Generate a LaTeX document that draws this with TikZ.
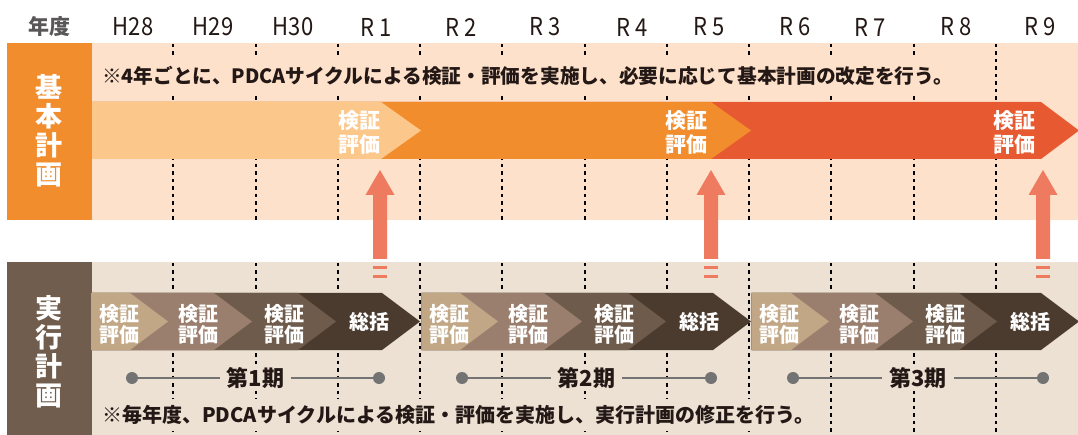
\documentclass[tikz,border=0pt]{standalone}
\usepackage{fontspec}
\setmainfont{Noto Sans CJK JP}
\usetikzlibrary{calc}
\definecolor{bandA}{HTML}{FDE1CA}
\definecolor{bandB}{HTML}{ECE1D2}
\definecolor{orMid}{HTML}{F18D2D}
\definecolor{orLight}{HTML}{FCC78B}
\definecolor{orRed}{HTML}{E75A31}
\definecolor{brBox}{HTML}{705D4D}
\definecolor{chvA}{HTML}{C1A785}
\definecolor{chvB}{HTML}{9B7F6E}
\definecolor{chvC}{HTML}{6E5B4B}
\definecolor{chvD}{HTML}{4B3A2E}
\definecolor{upar}{HTML}{EE7A5F}
\definecolor{dotg}{HTML}{737373}
\definecolor{txtc}{HTML}{231815}
\definecolor{hdrc}{HTML}{595757}
\tikzset{
  yearlbl/.style={font=\fontsize{22}{22}\selectfont, text=txtc, inner sep=0pt},
  hdrlbl/.style={font=\fontsize{21}{21}\selectfont\bfseries, text=hdrc, inner sep=0pt},
  vlbl/.style={font=\fontsize{27}{29}\selectfont\bfseries, text=white, align=center, inner sep=0pt},
  chvlbl/.style={font=\fontsize{20}{20.5}\selectfont\bfseries, text=white, align=center, inner sep=0pt},
  toplbl/.style={font=\fontsize{21}{24}\selectfont\bfseries, text=white, align=center, inner sep=0pt},
  notelbl/.style={font=\fontsize{20}{20}\selectfont\bfseries, text=txtc, inner xsep=5pt, inner ysep=0pt, minimum height=36pt},
  periodlbl/.style={font=\fontsize{22}{22}\selectfont\bfseries, text=txtc, fill=bandB, inner xsep=7pt, inner ysep=2pt},
  divider/.style={line width=2pt, dash pattern=on 3.5pt off 4pt, black},
  periodline/.style={line width=2pt, dotg},
  perioddot/.style={circle, fill=dotg, minimum size=12pt, inner sep=0pt},
}
\newcommand{\yrtxt}[1]{\scalebox{1}[1.12]{#1}}
\begin{document}
\begin{tikzpicture}[x=1pt,y=-1pt]
\useasboundingbox (0,0) rectangle (1078,435);
\fill[white] (0,0) rectangle (1078,435);

% header
\node[hdrlbl] (hdr) at (49,27) {年度};
\foreach \xx/\lab [count=\i] in {133/H28,213/H29,293/H30,376/R\hspace{5pt}1,461/R\hspace{5pt}2,545/R\hspace{5pt}3,632/R\hspace{5pt}4,709/R\hspace{5pt}5,795/R\hspace{5pt}6,870/R\hspace{5pt}7,956/R\hspace{5pt}8,1040/R\hspace{5pt}9}
  \node[yearlbl] (yr\i) at (\xx,27) {\yrtxt{\lab}};

% bands
\fill[bandA] (92,43) rectangle (1078,220);
\fill[bandB] (92,262) rectangle (1078,435);
\fill[orMid] (7,43) rectangle (92,220);
\fill[brBox] (7,262) rectangle (92,435);
\node[vlbl] (kihon) at (48.5,131) {基\\本\\計\\画};
\node[vlbl] (jikko) at (48.5,352) {実\\行\\計\\画};

% dotted year dividers
\foreach \k in {1,...,11} {
  \draw[divider] ({91+82.25*\k},44) -- ({91+82.25*\k},220);
  \draw[divider] ({91+82.25*\k},263) -- ({91+82.25*\k},435);
}

% top note
\node[notelbl, fill=bandA, anchor=west, font=\fontsize{19.7}{20}\selectfont\bfseries] (note1) at (97,76) {※4年ごとに、PDCAサイクルによる検証・評価を実施し、必要に応じて基本計画の改定を行う。};

% big top arrow
\fill[orRed] (92,102) -- (1041,102) -- (1079,130.5) -- (1041,159) -- (92,159) -- cycle;
\fill[orMid] (92,102) -- (711,102) -- (751,130.5) -- (711,159) -- (92,159) -- cycle;
\fill[orLight] (92,102) -- (381,102) -- (421,130.5) -- (381,159) -- (92,159) -- cycle;
\node[toplbl, anchor=east] (ev1) at (381,133) {検証\\評価};
\node[toplbl, anchor=east] (ev2) at (708,133) {検証\\評価};
\node[toplbl, anchor=east] (ev3) at (1036,133) {検証\\評価};

% chevron groups
\foreach \g/\xo/\ta/\tb/\tc/\td in {1/91/168/252/336/420, 2/421.5/498/582/666/751, 3/751.5/829/913/997/1079} {
  \fill[chvD] (\xo,293) -- ({\td-38},293) -- (\td,321.5) -- ({\td-38},350) -- (\xo,350) -- cycle;
  \fill[chvC] (\xo,293) -- ({\tc-38},293) -- (\tc,321.5) -- ({\tc-38},350) -- (\xo,350) -- cycle;
  \fill[chvB] (\xo,293) -- ({\tb-38},293) -- (\tb,321.5) -- ({\tb-38},350) -- (\xo,350) -- cycle;
  \fill[chvA] (\xo,293) -- ({\ta-38},293) -- (\ta,321.5) -- ({\ta-38},350) -- (\xo,350) -- cycle;
  \node[chvlbl] (g\g a) at ({\xo+28},324.5) {検証\\評価};
  \node[chvlbl] (g\g b) at ({\ta+30},324.5) {検証\\評価};
  \node[chvlbl] (g\g c) at ({\tb+32},324.5) {検証\\評価};
  \node[chvlbl] (g\g d) at ({\tc+33},322) {総括};
}

% period lines
\foreach \g/\xa/\xb in {1/132/379, 2/462/711, 3/793/1043} {
  \node[perioddot] (p\g s) at (\xa,378) {};
  \node[perioddot] (p\g e) at (\xb,378) {};
  \draw[periodline] (p\g s) -- (p\g e);
  \node[periodlbl] (p\g l) at ({(\xa+\xb)/2},378) {第\g 期};
}

% bottom note
\node[notelbl, fill=bandB, anchor=west, minimum height=32pt] (note2) at (97,415) {※毎年度、PDCAサイクルによる検証・評価を実施し、実行計画の修正を行う。};

% upward block arrows
\foreach \i/\xx in {1/380, 2/711, 3/1043} {
  \coordinate (up\i) at (\xx,170);
  \fill[upar] (up\i) -- ++(14.5,25) -- ++(-7.5,0) -- ++(0,64) -- ++(-14,0) -- ++(0,-64) -- ++(-7.5,0) -- cycle;
  \fill[upar] ($(up\i)+(-7,96)$) rectangle ++(14,3);
  \fill[upar] ($(up\i)+(-7,105)$) rectangle ++(14,3);
}
\end{tikzpicture}
\end{document}
